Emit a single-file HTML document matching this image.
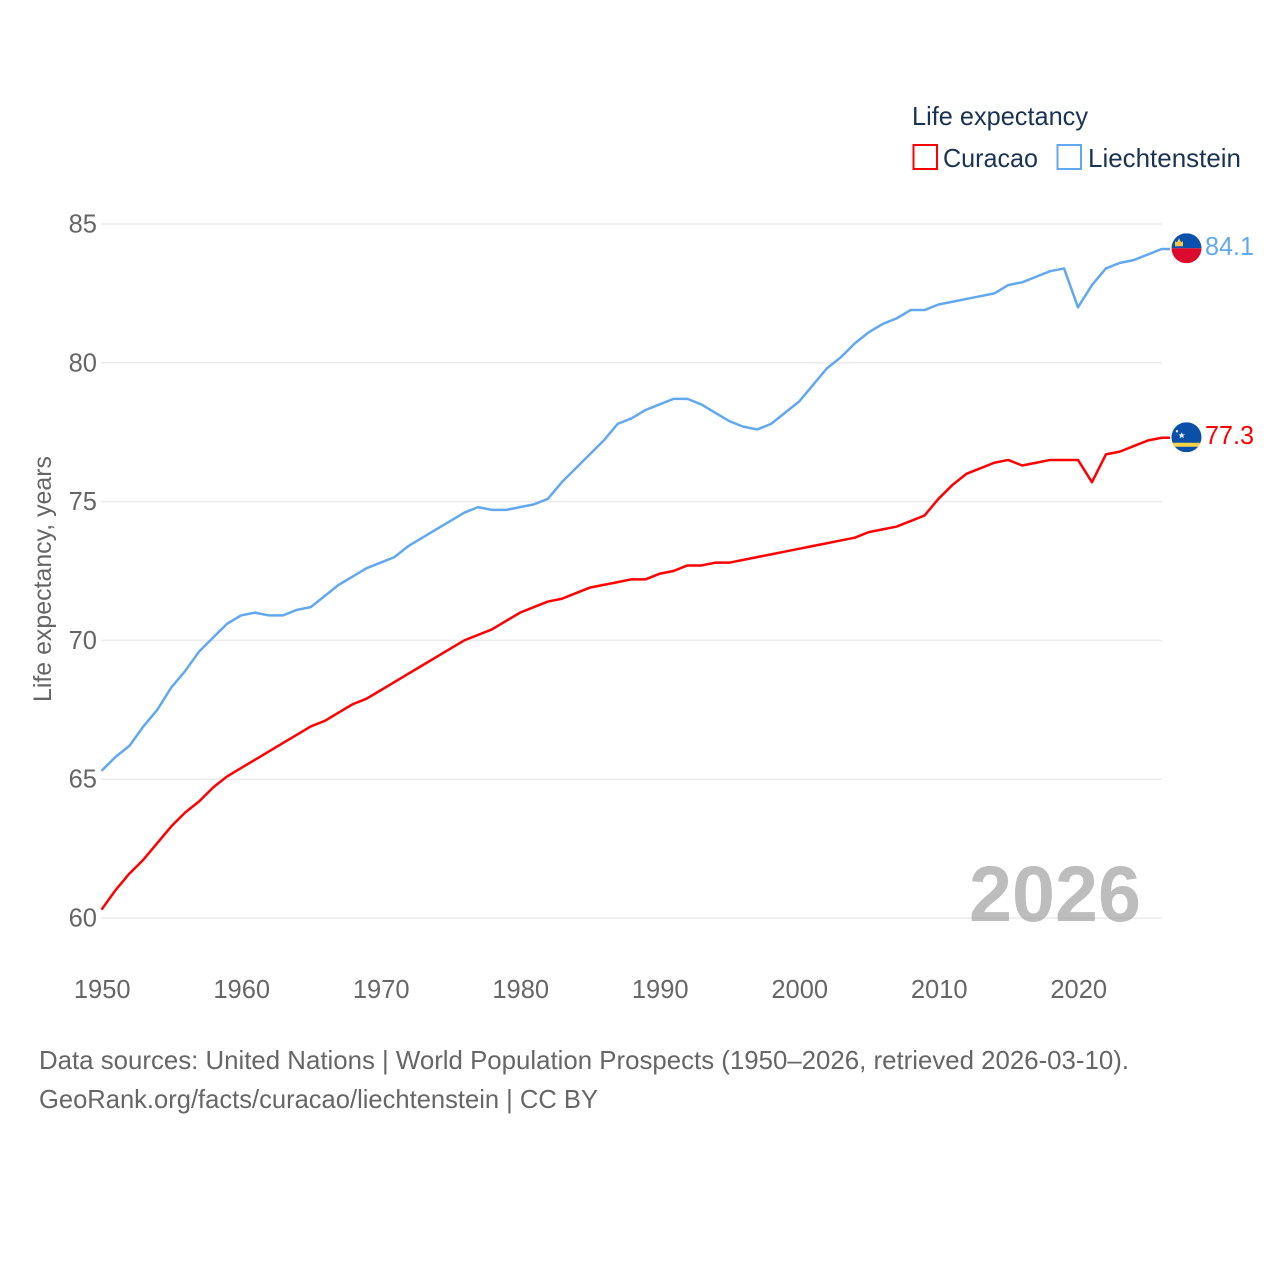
<!DOCTYPE html>
<html lang="en">
<head>
<meta charset="utf-8">
<title>Life expectancy: Curacao and Liechtenstein</title>
<style>
html,body{margin:0;padding:0;background:#fff;}
svg{display:block;}
text{font-family:"Liberation Sans",sans-serif;}
</style>
</head>
<body>
<svg id="chart" xmlns="http://www.w3.org/2000/svg" width="1280" height="1280" viewBox="0 0 1280 1280">
  <rect x="0" y="0" width="1280" height="1280" fill="#ffffff"/>
  <g id="grid"></g>
  <g id="ylabels"></g>
  <g id="xlabels"></g>
  <text transform="translate(51,702) rotate(-90)" font-size="25" fill="#666666" textLength="246" lengthAdjust="spacingAndGlyphs">Life expectancy, years</text>
  <text x="969" y="921" font-size="79" font-weight="bold" fill="#999999" fill-opacity="0.65" textLength="172" lengthAdjust="spacingAndGlyphs">2026</text>
  <g id="series"></g>
  <g id="flag-li">
    <clipPath id="clip-li"><circle cx="0" cy="0" r="15"/></clipPath>
    <g clip-path="url(#clip-li)">
      <rect x="-15" y="-15" width="30" height="15" fill="#0a50ac"/>
      <rect x="-15" y="0" width="30" height="15" fill="#dc0a2c"/>
      <path d="M-11.5,-2 L-11.5,-7 L-9.5,-6 L-7.5,-10 L-5.5,-6 L-3.5,-7 L-3.5,-2 Z" fill="#f5c84c"/>
    </g>
  </g>
  <g id="flag-cw">
    <clipPath id="clip-cw"><circle cx="0" cy="0" r="15"/></clipPath>
    <g clip-path="url(#clip-cw)">
      <rect x="-15" y="-15" width="30" height="30" fill="#0a50a8"/>
      <rect x="-15" y="5.5" width="30" height="4" fill="#f6d14a"/>
      <path d="M-4.8,-5 L-3.8,-2.9 L-1.6,-2.9 L-3.3,-1.4 L-2.7,1 L-4.8,-0.3 L-6.9,1 L-6.3,-1.4 L-8,-2.9 L-5.8,-2.9 Z" fill="#e8eef6"/>
      <circle cx="-9.5" cy="-6" r="1.2" fill="#e8eef6"/>
    </g>
  </g>
  <text id="value-li" x="1205" font-size="25.5" fill="#62a8ef" textLength="49" lengthAdjust="spacingAndGlyphs"></text>
  <text id="value-cw" x="1205" font-size="25.5" fill="#ff0000" textLength="49" lengthAdjust="spacingAndGlyphs"></text>

  <g>
    <text x="912" y="125" font-size="26" fill="#1b3353" textLength="176" lengthAdjust="spacingAndGlyphs">Life expectancy</text>
    <g>
      <rect x="913.5" y="145" width="23.5" height="24" fill="#ffffff" stroke="#ff0000" stroke-width="2"/>
      <text x="943" y="167" font-size="26" fill="#1b3353" textLength="95" lengthAdjust="spacingAndGlyphs">Curacao</text>
    </g>
    <g>
      <rect x="1057.5" y="145" width="23.5" height="24" fill="#ffffff" stroke="#62a8ef" stroke-width="2"/>
      <text x="1088" y="167" font-size="26" fill="#1b3353" textLength="153" lengthAdjust="spacingAndGlyphs">Liechtenstein</text>
    </g>
  </g>

  <text x="39" y="1069" font-size="26" fill="#666666" textLength="1090" lengthAdjust="spacingAndGlyphs">Data sources: United Nations | World Population Prospects (1950–2026, retrieved 2026-03-10).</text>
  <text x="39" y="1108" font-size="26" fill="#666666" textLength="559" lengthAdjust="spacingAndGlyphs">GeoRank.org/facts/curacao/liechtenstein | CC BY</text>
</svg>
<script>
var startYear = 1950;
var curacao = [
  60.3, 61.0, 61.6, 62.1, 62.7, 63.3, 63.8, 64.2, 64.7, 65.1,
  65.4, 65.7, 66.0, 66.3, 66.6, 66.9, 67.1, 67.4, 67.7, 67.9,
  68.2, 68.5, 68.8, 69.1, 69.4, 69.7, 70.0, 70.2, 70.4, 70.7,
  71.0, 71.2, 71.4, 71.5, 71.7, 71.9, 72.0, 72.1, 72.2, 72.2,
  72.4, 72.5, 72.7, 72.7, 72.8, 72.8, 72.9, 73.0, 73.1, 73.2,
  73.3, 73.4, 73.5, 73.6, 73.7, 73.9, 74.0, 74.1, 74.3, 74.5,
  75.1, 75.6, 76.0, 76.2, 76.4, 76.5, 76.3, 76.4, 76.5, 76.5,
  76.5, 75.7, 76.7, 76.8, 77.0, 77.2, 77.3
];
var liechtenstein = [
  65.3, 65.8, 66.2, 66.9, 67.5, 68.3, 68.9, 69.6, 70.1, 70.6,
  70.9, 71.0, 70.9, 70.9, 71.1, 71.2, 71.6, 72.0, 72.3, 72.6,
  72.8, 73.0, 73.4, 73.7, 74.0, 74.3, 74.6, 74.8, 74.7, 74.7,
  74.8, 74.9, 75.1, 75.7, 76.2, 76.7, 77.2, 77.8, 78.0, 78.3,
  78.5, 78.7, 78.7, 78.5, 78.2, 77.9, 77.7, 77.6, 77.8, 78.2,
  78.6, 79.2, 79.8, 80.2, 80.7, 81.1, 81.4, 81.6, 81.9, 81.9,
  82.1, 82.2, 82.3, 82.4, 82.5, 82.8, 82.9, 83.1, 83.3, 83.4,
  82.0, 82.8, 83.4, 83.6, 83.7, 83.9, 84.1
];
var yTicks = [60, 65, 70, 75, 80, 85];
var xTicks = [1950, 1960, 1970, 1980, 1990, 2000, 2010, 2020];

var SVG_NS = "http://www.w3.org/2000/svg";
function xScale(year) { return 101.5 + (year - 1950) * 13.95; }
function yScale(v) { return 918 - (v - 60) * 27.76; }

function linePath(values) {
  var d = "";
  for (var i = 0; i < values.length; i++) {
    d += (i ? "L" : "M") + xScale(startYear + i).toFixed(2) + "," + yScale(values[i]).toFixed(2);
  }
  var last = yScale(values[values.length - 1]).toFixed(2);
  d += "L1170," + last;
  return d;
}

var gridG = document.getElementById("grid");
var yG = document.getElementById("ylabels");
var xG = document.getElementById("xlabels");
var seriesG = document.getElementById("series");

yTicks.forEach(function (t) {
  var ln = document.createElementNS(SVG_NS, "line");
  
  
  ln.setAttribute("x1", 101);
  ln.setAttribute("x2", 1162);
  ln.setAttribute("y1", yScale(t));
  ln.setAttribute("y2", yScale(t));
  ln.setAttribute("stroke", "#ebebeb");
  ln.setAttribute("stroke-width", "1.5");
  gridG.appendChild(ln);

  var tx = document.createElementNS(SVG_NS, "text");
  
  
  tx.setAttribute("x", 97);
  tx.setAttribute("y", yScale(t) + 8.5);
  tx.setAttribute("text-anchor", "end");
  tx.setAttribute("font-size", "25.5");
  tx.setAttribute("fill", "#666666");
  tx.textContent = t;
  yG.appendChild(tx);
});

xTicks.forEach(function (t) {
  var tx = document.createElementNS(SVG_NS, "text");
  
  
  tx.setAttribute("x", xScale(t) + 0.7);
  tx.setAttribute("y", 998);
  tx.setAttribute("text-anchor", "middle");
  tx.setAttribute("font-size", "25.5");
  tx.setAttribute("fill", "#666666");
  tx.textContent = t;
  xG.appendChild(tx);
});

var curacaoLine = document.createElementNS(SVG_NS, "path");


curacaoLine.setAttribute("d", linePath(curacao));
curacaoLine.setAttribute("fill", "none");
curacaoLine.setAttribute("stroke", "#ff0000");
curacaoLine.setAttribute("stroke-width", "2.5");
curacaoLine.setAttribute("stroke-linejoin", "round");
seriesG.appendChild(curacaoLine);

var liechtensteinLine = document.createElementNS(SVG_NS, "path");


liechtensteinLine.setAttribute("d", linePath(liechtenstein));
liechtensteinLine.setAttribute("fill", "none");
liechtensteinLine.setAttribute("stroke", "#62a8ef");
liechtensteinLine.setAttribute("stroke-width", "2.5");
liechtensteinLine.setAttribute("stroke-linejoin", "round");
seriesG.appendChild(liechtensteinLine);

var lastCw = curacao[curacao.length - 1];
var lastLi = liechtenstein[liechtenstein.length - 1];
document.getElementById("flag-li").setAttribute("transform", "translate(1186.5," + (yScale(lastLi) - 0.7) + ")");
document.getElementById("flag-cw").setAttribute("transform", "translate(1186.5," + (yScale(lastCw) - 0.5) + ")");
var valueLi = document.getElementById("value-li");
valueLi.setAttribute("y", yScale(lastLi) + 6);
valueLi.textContent = lastLi.toFixed(1);
var valueCw = document.getElementById("value-cw");
valueCw.setAttribute("y", yScale(lastCw) + 6);
valueCw.textContent = lastCw.toFixed(1);
</script>
</body>
</html>
